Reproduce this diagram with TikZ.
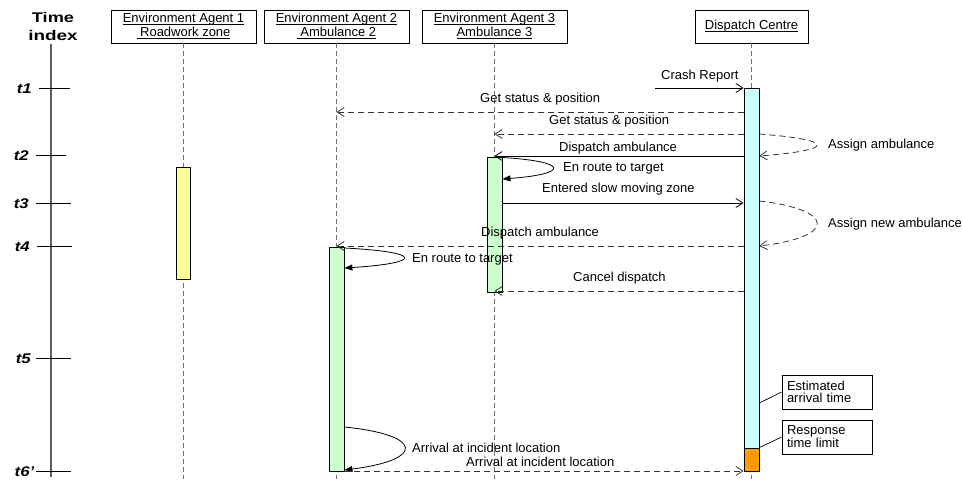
\documentclass[tikz,border=0pt]{standalone}
\usepackage{fontspec}
\setmainfont{Liberation Sans}
\usetikzlibrary{arrows.meta,calc}
\definecolor{yfill}{HTML}{FFFF99}
\definecolor{gfill}{HTML}{CCFFCC}
\definecolor{cfill}{HTML}{CCFFFF}
\definecolor{ofill}{HTML}{FF9900}
\definecolor{lifegray}{HTML}{707070}
\definecolor{axisgray}{HTML}{606060}
\newcommand\hdrul[1]{\underline{\smash{#1}}\vphantom{Ay}}
\begin{document}
\begin{tikzpicture}[x=1pt,y=-1pt,
  lbl/.style={font=\fontsize{13}{14}\selectfont, inner sep=0pt, anchor=base west},
  hdr/.style={draw, line width=0.8pt, minimum height=33pt, align=center,
    font=\fontsize{13}{13.5}\selectfont, inner sep=0pt},
  life/.style={draw=lifegray, line width=0.9pt, dash pattern=on 5pt off 3pt},
  bar/.style={draw, line width=0.8pt, inner sep=0pt, minimum width=15pt},
  openhead/.style={-{Straight Barb[length=7pt,width=9pt]}},
  filledhead/.style={-{Triangle[length=8pt,width=6pt]}},
  msg/.style={draw=black, line width=0.8pt, openhead},
  msgd/.style={draw=black!80, line width=0.8pt, dash pattern=on 6pt off 4pt, openhead},
  self/.style={draw=black, line width=0.8pt, filledhead},
  tl/.style={font=\bfseries\itshape\fontsize{14}{14}\selectfont, inner sep=0pt, anchor=base east},
  ti/.style={font=\bfseries\fontsize{14}{14}\selectfont, inner sep=0pt, anchor=base},
  tick/.style={draw=black, line width=0.9pt},
  note/.style={draw, line width=0.8pt, minimum width=90pt, minimum height=34pt, inner xsep=5pt,
    text width=80pt, align=left, font=\fontsize{13}{12}\selectfont},
  noteline/.style={draw=black, line width=0.7pt}
]
\useasboundingbox (0,0) rectangle (963,479);

% time axis
\node[ti] (ti1) at (53,23) {\scalebox{1.3}[1.0]{Time}};
\node[ti] (ti2) at (53,40) {\scalebox{1.35}[1.0]{index}};
\coordinate (axtop) at (51,44);
\coordinate (axbot) at (51,477);
\draw[draw=axisgray, line width=1.2pt] (axtop) -- (axbot);

\coordinate (k1a) at (39,88);  \coordinate (k1b) at (70,88);
\coordinate (k2a) at (36,155); \coordinate (k2b) at (66,155);
\coordinate (k3a) at (36,203); \coordinate (k3b) at (71,203);
\coordinate (k4a) at (37,246); \coordinate (k4b) at (72,246);
\coordinate (k5a) at (36,358); \coordinate (k5b) at (71,358);
\coordinate (k6a) at (36,471); \coordinate (k6b) at (71,471);
\foreach \k in {1,...,6} {\draw[tick] (k\k a) -- (k\k b);}
\node[tl] (t1) at (32,93) {\scalebox{1.2}[1.0]{t1}};
\node[tl] (t2) at (29,160) {\scalebox{1.2}[1.0]{t2}};
\node[tl] (t3) at (29,208) {\scalebox{1.2}[1.0]{t3}};
\node[tl] (t4) at (30,251) {\scalebox{1.2}[1.0]{t4}};
\node[tl] (t5) at (31,363) {\scalebox{1.2}[1.0]{t5}};
\node[tl] (t6) at (34.5,476) {\scalebox{1.2}[1.0]{t6'}};

% headers
\node[hdr, minimum width=145pt] (h1) at (183.5,26.5) {\hdrul{Environment Agent 1}\\\hdrul{\ Roadwork zone}};
\node[hdr, minimum width=145pt] (h2) at (336.5,26.5) {\hdrul{Environment Agent 2}\\\hdrul{\ Ambulance 2}};
\node[hdr, minimum width=145pt] (h3) at (494.5,26.5) {\hdrul{Environment Agent 3}\\\hdrul{Ambulance 3}};
\node[hdr, minimum width=113pt] (hD) at (751.5,26.5) {\hdrul{Dispatch Centre}};

% lifelines
\coordinate (bottom) at (0,479);
\draw[life] (h1.south) -- (h1.south |- bottom);
\draw[life] (h2.south) -- (h2.south |- bottom);
\draw[life] (h3.south) -- (h3.south |- bottom);
\draw[life] (hD.south) -- (hD.south |- bottom);

% activation bars
\node[bar, fill=yfill, minimum width=14pt, minimum height=112pt] (bar1) at (183.5,223) {};
\node[bar, fill=gfill, minimum height=135pt] (bar3) at (494.5,224.5) {};
\node[bar, fill=gfill, minimum height=224pt] (bar2) at (336.5,359) {};
\node[bar, fill=cfill, minimum height=360pt] (barD) at (751.5,268) {};
\node[bar, fill=ofill, minimum height=23pt] (barO) at (751.5,459.5) {};

% y levels
\coordinate (y88) at (0,88);
\coordinate (y112) at (0,112);
\coordinate (y134) at (0,134);
\coordinate (y156) at (0,156);
\coordinate (y157) at (0,157.5);
\coordinate (y179) at (0,179);
\coordinate (y201) at (0,201);
\coordinate (y203) at (0,203);
\coordinate (y246) at (0,246);
\coordinate (y247) at (0,248);
\coordinate (y268) at (0,268);
\coordinate (y291) at (0,291);
\coordinate (y403) at (0,403);
\coordinate (y427) at (0,427);
\coordinate (y470) at (0,470);
\coordinate (y471) at (0,471);

% messages
\coordinate (cr) at (655,88);
\draw[msg] (cr) -- (barD.west |- y88);
\node[lbl] (lcr) at (661,79) {Crash Report};

\draw[msgd] (barD.west |- y112) -- (h2.south |- y112);
\node[lbl] (lgs1) at (480,102) {Get status \& position};

\draw[msgd] (barD.west |- y134) -- (h3.south |- y134);
\node[lbl] (lgs2) at (549,124) {Get status \& position};

\draw[msg] (barD.west |- y156) -- (h3.south |- y156);
\node[lbl] (lda1) at (559,151) {Dispatch ambulance};

\draw[msgd] (barD.east |- y134) .. controls +(77,6) and +(77,-6) .. (barD.east |- y156);
\node[lbl] (laa) at (828,148) {Assign ambulance};

\draw[self] (bar3.east |- y157) .. controls +(67,4) and +(67,-5) .. (bar3.east |- y179);
\node[lbl] (ler1) at (563,171) {En route to target};

\draw[msg] (bar3.east |- y203) -- (barD.west |- y203);
\node[lbl] (les) at (542,192) {Entered slow moving zone};

\draw[msgd] (barD.east |- y201) .. controls +(77,9) and +(77,-9) .. (barD.east |- y246);
\node[lbl] (lan) at (828,227) {Assign new ambulance};

\draw[msgd] (barD.west |- y246) -- (h2.south |- y246);
\node[lbl] (lda2) at (481,236) {Dispatch ambulance};

\draw[self] (bar2.east |- y247) .. controls +(79,4) and +(79,-5) .. (bar2.east |- y268);
\node[lbl] (ler2) at (412,262) {En route to target};

\draw[msgd] (barD.west |- y291) -- (h3.south |- y291);
\node[lbl] (lcd) at (573,281) {Cancel dispatch};

\draw[self] (bar2.east |- y427) .. controls +(80,8) and +(80,-10) .. (bar2.east |- y470);
\node[lbl] (lar1) at (412,452) {Arrival at incident location};

\draw[msgd] (bar2.east |- y471) -- (barO.west |- y471);
\node[lbl] (lar2) at (466,466) {Arrival at incident location};

% notes
\node[note] (n1) at (827,392) {Estimated\\arrival time};
\node[note] (n2) at (827,437) {Response\\time limit};
\draw[noteline] (barD.east |- y403) -- (n1.west);
\draw[noteline] (barO.north east) -- (n2.west);
\end{tikzpicture}
\end{document}
